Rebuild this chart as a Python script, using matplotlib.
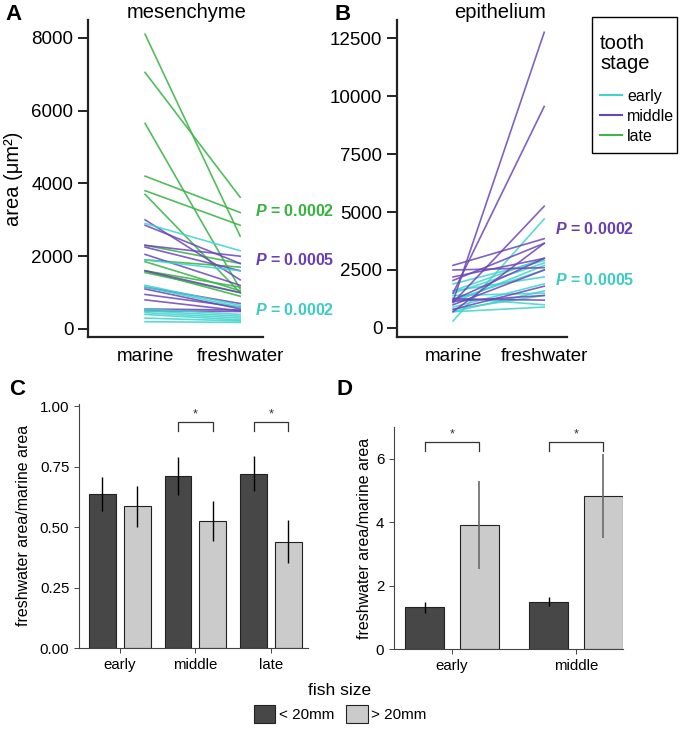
import matplotlib
matplotlib.use("Agg")
import matplotlib.pyplot as plt
from matplotlib.lines import Line2D
from matplotlib.patches import Patch, Rectangle
import numpy as np

plt.rcParams['font.family'] = ['Liberation Sans', 'DejaVu Sans']
plt.rcParams['mathtext.fontset'] = 'custom'
plt.rcParams['mathtext.it'] = 'Liberation Sans:italic:bold'
plt.rcParams['mathtext.rm'] = 'Liberation Sans:bold'

# ---------------- data ----------------
conditions = ["marine", "freshwater"]
stages = ["early", "middle", "late"]

# Panel A: mesenchyme area (um^2), paired marine -> freshwater
late_A_marine = [8100, 7050, 5650, 4200, 3800, 3700, 2300, 1900, 1850, 1600, 1600, 1550]
late_A_fresh = [2550, 3620, 1100, 3200, 2850, 1000, 1800, 1700, 1050, 1150, 900, 1000]
middle_A_marine = [3000, 2850, 2300, 2250, 2050, 1600, 1150, 1100, 950, 800, 550, 500]
middle_A_fresh = [1350, 1800, 2000, 1600, 1200, 1000, 700, 550, 600, 500, 520, 480]
early_A_marine = [2900, 1900, 1200, 1150, 550, 500, 450, 400, 300, 200]
early_A_fresh = [2150, 1600, 650, 600, 400, 350, 300, 250, 220, 180]

# Panel B: epithelium area (um^2)
middle_B_marine = [1150, 1500, 1100, 2700, 2050, 2500, 1200, 1000, 700, 800, 1150, 1250, 2200]
middle_B_fresh = [12750, 9550, 5250, 3850, 3650, 2600, 3000, 2500, 3650, 1800, 1400, 1200, 3000]
early_B_marine = [300, 1600, 1500, 1100, 1200, 1600, 900, 700, 800, 1300, 700, 1900, 1400]
early_B_fresh = [4700, 3000, 2800, 2700, 2500, 2200, 1900, 1600, 1400, 1000, 900, 2900, 1500]

pvals_A = {"late": ("0.0002", 3250), "middle": ("0.0005", 1900), "early": ("0.0002", 520)}
pvals_B = {"middle": ("0.0002", 4270), "early": ("0.0005", 2070)}

# Panel C: freshwater/marine ratio (mesenchyme)
C_small = [0.635, 0.71, 0.72]
C_small_err = [0.07, 0.078, 0.073]
C_large = [0.585, 0.525, 0.44]
C_large_err = [0.083, 0.083, 0.088]
C_sig_groups = [1, 2]

# Panel D: freshwater/marine ratio (epithelium)
D_stages = ["early", "middle"]
D_small = [1.32, 1.5]
D_small_err = [0.17, 0.14]
D_large = [3.92, 4.82]
D_large_err = [1.38, 1.32]
D_sig_groups = [0, 1]

size_labels = ["< 20mm", "> 20mm"]

col = {"early": "#3ed3cc", "middle": "#6b45b8", "late": "#3fb64a"}
ptxt = {"early": "#3cccc4", "middle": "#6a3fb0", "late": "#36b23f"}
dark = "#474747"
light = "#cbcbcb"

W, H = 680, 729
fig = plt.figure(figsize=(W / 100, H / 100), dpi=100)

def axpx(l, t, r, b):
    return fig.add_axes([l / W, 1 - b / H, (r - l) / W, (b - t) / H])

def style_top(ax):
    for s in ["top", "right"]:
        ax.spines[s].set_visible(False)
    for s in ["left", "bottom"]:
        ax.spines[s].set_linewidth(1.6)
        ax.spines[s].set_color("#222222")
    ax.tick_params(axis="y", length=7, width=1.4, labelsize=13.5, color="#222222")
    ax.tick_params(axis="x", length=0, labelsize=13.5, pad=8)

def ptext(ax, x, y, s, c):
    ax.text(x, y, "$P$ = " + s, color=c, fontsize=11.5, fontweight="bold",
            va="center", ha="left")

# ---------------- Panel A ----------------
axA = axpx(88, 20, 263, 337)
xs = [1, 2]
for m, f in zip(late_A_marine, late_A_fresh):
    axA.plot(xs, [m, f], color=col["late"], lw=1.2, alpha=0.9)
for m, f in zip(middle_A_marine, middle_A_fresh):
    axA.plot(xs, [m, f], color=col["middle"], lw=1.2, alpha=0.85)
for m, f in zip(early_A_marine, early_A_fresh):
    axA.plot(xs, [m, f], color=col["early"], lw=1.2, alpha=0.85)
axA.set_xlim(0.4, 2.24)
axA.set_ylim(-220, 8490)
axA.set_xticks(xs)
axA.set_xticklabels(conditions)
axA.set_yticks([0, 2000, 4000, 6000, 8000])
axA.set_ylabel("area (μm²)", fontsize=14.5, labelpad=6)
style_top(axA)
for st in ["late", "middle", "early"]:
    s, y = pvals_A[st]
    ptext(axA, 2.16, y, s, ptxt[st])
fig.text(187 / W, 1 - 13 / H, "mesenchyme", fontsize=14.5, ha="center", va="center")
fig.text(14 / W, 1 - 14 / H, "A", fontsize=16, fontweight="bold", ha="center", va="center")

# ---------------- Panel B ----------------
axB = axpx(397, 20, 567, 337)
for m, f in zip(early_B_marine, early_B_fresh):
    axB.plot(xs, [m, f], color=col["early"], lw=1.2, alpha=0.85)
for m, f in zip(middle_B_marine, middle_B_fresh):
    axB.plot(xs, [m, f], color=col["middle"], lw=1.2, alpha=0.85)
axB.set_xlim(0.385, 2.25)
axB.set_ylim(-390, 13280)
axB.set_xticks(xs)
axB.set_xticklabels(conditions)
axB.set_yticks([0, 2500, 5000, 7500, 10000, 12500])
style_top(axB)
for st in ["middle", "early"]:
    s, y = pvals_B[st]
    ptext(axB, 2.12, y, s, ptxt[st])
fig.text(500 / W, 1 - 13 / H, "epithelium", fontsize=14.5, ha="center", va="center")
fig.text(343 / W, 1 - 14 / H, "B", fontsize=16, fontweight="bold", ha="center", va="center")

# tooth stage legend (box drawn separately)
fig.patches.append(Rectangle((592 / W, 1 - 153 / H), 85 / W, 136 / H, transform=fig.transFigure,
                             facecolor="white", edgecolor="black", lw=1.0, zorder=5))
handles = [Line2D([], [], color=col[s], lw=1.5) for s in stages]
leg = fig.legend(handles, stages, loc="upper left", bbox_to_anchor=(600 / W, 1 - 34 / H),
                 title="tooth\nstage", title_fontsize=14.5, fontsize=11.5, frameon=False,
                 handlelength=1.35, handletextpad=0.35, labelspacing=0.32,
                 borderpad=0, borderaxespad=0, alignment="left")
leg.set_zorder(6)
leg.get_title().set_linespacing(1.05)
leg._legend_box.sep = 11.5

# ---------------- bar panels style ----------------
def style_bar(ax):
    for s in ["top", "right"]:
        ax.spines[s].set_visible(False)
    for s in ["left", "bottom"]:
        ax.spines[s].set_linewidth(0.8)
        ax.spines[s].set_color("#444444")
    ax.tick_params(length=3.5, width=0.7, color="#444444", labelsize=10.8)

def bracket(ax, x1, x2, y, leg_len, star_y):
    ax.plot([x1, x1, x2, x2], [y - leg_len, y, y, y - leg_len], color="#333333", lw=0.9)
    ax.text((x1 + x2) / 2, star_y, "*", ha="center", va="center", fontsize=9, color="#333333")

# ---------------- Panel C ----------------
axC = axpx(79, 403.6, 308, 648)
gx = np.arange(len(stages))
bw, off = 0.357, 0.23
axC.bar(gx - off, C_small, bw, color=dark, edgecolor="#222222", lw=0.8, zorder=2)
axC.bar(gx + off, C_large, bw, color=light, edgecolor="#222222", lw=0.8, zorder=2)
axC.errorbar(gx - off, C_small, yerr=C_small_err, fmt="none", ecolor="black", elinewidth=1.0, zorder=3)
axC.errorbar(gx + off, C_large, yerr=C_large_err, fmt="none", ecolor="black", elinewidth=1.0, zorder=3)
for g in C_sig_groups:
    bracket(axC, g - off, g + off, 0.935, 0.038, 0.965)
axC.set_xlim(-0.54, 2.49)
axC.set_ylim(0, 1.01)
axC.set_yticks([0, 0.25, 0.5, 0.75, 1.0])
axC.set_yticklabels(["0.00", "0.25", "0.50", "0.75", "1.00"])
axC.set_xticks(gx)
axC.set_xticklabels(stages)
axC.set_ylabel("freshwater area/marine area", fontsize=11.5, labelpad=6)
style_bar(axC)
fig.text(17 / W, 1 - 389 / H, "C", fontsize=16, fontweight="bold", ha="center", va="center")

# ---------------- Panel D ----------------
axD = axpx(394, 426.7, 623, 649.3)
gd = np.arange(len(D_stages))
bw2, off2 = 0.315, 0.22
axD.bar(gd - off2, D_small, bw2, color=dark, edgecolor="#222222", lw=0.8, zorder=2)
axD.bar(gd + off2, D_large, bw2, color=light, edgecolor="#222222", lw=0.8, zorder=2)
axD.errorbar(gd - off2, D_small, yerr=D_small_err, fmt="none", ecolor="black", elinewidth=1.0, zorder=3)
axD.errorbar(gd + off2, D_large, yerr=D_large_err, fmt="none", ecolor="#6a6a6a", elinewidth=1.2, zorder=3)
for g in D_sig_groups:
    bracket(axD, g - off2, g + off2, 6.53, 0.3, 6.75)
axD.set_xlim(-0.468, 1.38)
axD.set_ylim(0, 7.0)
axD.set_yticks([0, 2, 4, 6])
axD.set_xticks(gd)
axD.set_xticklabels(D_stages)
axD.set_ylabel("freshwater area/marine area", fontsize=11.5, labelpad=3)
style_bar(axD)
fig.text(345 / W, 1 - 389 / H, "D", fontsize=16, fontweight="bold", ha="center", va="center")

# ---------------- fish size legend ----------------
ph = [Patch(facecolor=dark, edgecolor="#222222", lw=0.8),
      Patch(facecolor=light, edgecolor="#222222", lw=0.8)]
leg2 = fig.legend(ph, size_labels, loc="center", bbox_to_anchor=(340 / W, 1 - 703 / H),
                  ncol=2, frameon=False, title="fish size", title_fontsize=12.5,
                  fontsize=11, handlelength=1.4, handleheight=1.4, handletextpad=0.2,
                  columnspacing=0.8, borderpad=0.2)

fig.savefig("out.png", dpi=100)
